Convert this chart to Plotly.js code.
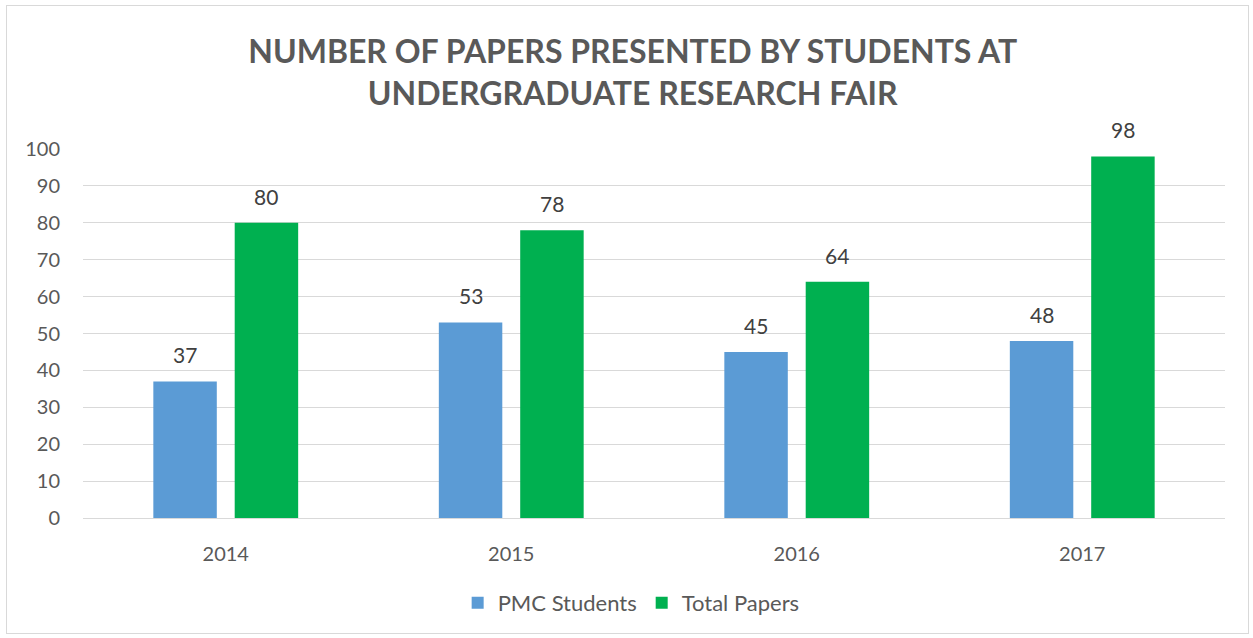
<!DOCTYPE html>
<html><head><meta charset="utf-8">
<script src="https://cdn.plot.ly/plotly-3.0.1.min.js"></script>
<style>
html,body{margin:0;padding:0;background:#fff;}
#chart{width:1253px;height:638px;position:relative;}
#frame{position:absolute;left:6px;top:5px;width:1241px;height:627px;border:1px solid #d9d9d9;pointer-events:none;z-index:10;}
</style></head>
<body>
<div id="chart"></div>
<div id="frame"></div>
<script>
const years = ['2014','2015','2016','2017'];
const pmcStudents = [37, 53, 45, 48];
const totalPapers = [80, 78, 64, 98];
const yTicks = [0,10,20,30,40,50,60,70,80,90,100];

const FONT = 'Lato, "Open Sans", sans-serif';
const BARGAP = 0.43, GROUPGAP = 0.22;
const slotHalf = (1 - BARGAP) / 4;  // half of one bar slot, in category units

const traces = [
  {type:'bar', name:'PMC Students', x:years, y:pmcStudents, marker:{color:'#5B9BD5'}},
  {type:'bar', name:'Total Papers', x:years, y:totalPapers, marker:{color:'#00B050'}}
];
const annotations = [];
[[pmcStudents, -slotHalf], [totalPapers, slotHalf]].forEach(([vals, off]) => {
  vals.forEach((v, i) => annotations.push({
    x: i + off, y: v, xref:'x', yref:'y', text: String(v), showarrow:false,
    yanchor:'bottom', yshift: 12, font:{size:21, color:'#404040', family:FONT}
  }));
});
const layout = {
  width:1253, height:638,
  margin:{l:83, r:28, t:149, b:120},
  paper_bgcolor:'#fff', plot_bgcolor:'#fff',
  font:{family:FONT, color:'#595959'},
  title:{text:'<b>NUMBER OF PAPERS PRESENTED BY STUDENTS AT<br>UNDERGRADUATE RESEARCH FAIR</b>',
    font:{size:32, color:'#595959', family:FONT}, x:0.505, xanchor:'center', y:0.901, yanchor:'middle'},
  barmode:'group', bargap:BARGAP, bargroupgap:GROUPGAP,
  xaxis:{type:'category', tickfont:{size:20,color:'#595959'}, showline:true, linecolor:'#d9d9d9', linewidth:1,
    ticks:'', showgrid:false, zeroline:false, ticklabelstandoff:18},
  yaxis:{range:[0,100], tickvals:yTicks, tickfont:{size:20,color:'#595959'}, gridcolor:'#d9d9d9', gridwidth:1,
    zeroline:false, showline:false, ticks:'', ticklabelstandoff:22},
  annotations: annotations,
  showlegend:true,
  legend:{orientation:'h', x:0.48, xanchor:'center', y:-0.23, yanchor:'middle', font:{size:22,color:'#595959'},
    itemwidth:30, traceorder:'normal'}
};
Plotly.newPlot('chart', traces, layout, {displayModeBar:false, staticPlot:true});
</script>
</body></html>
